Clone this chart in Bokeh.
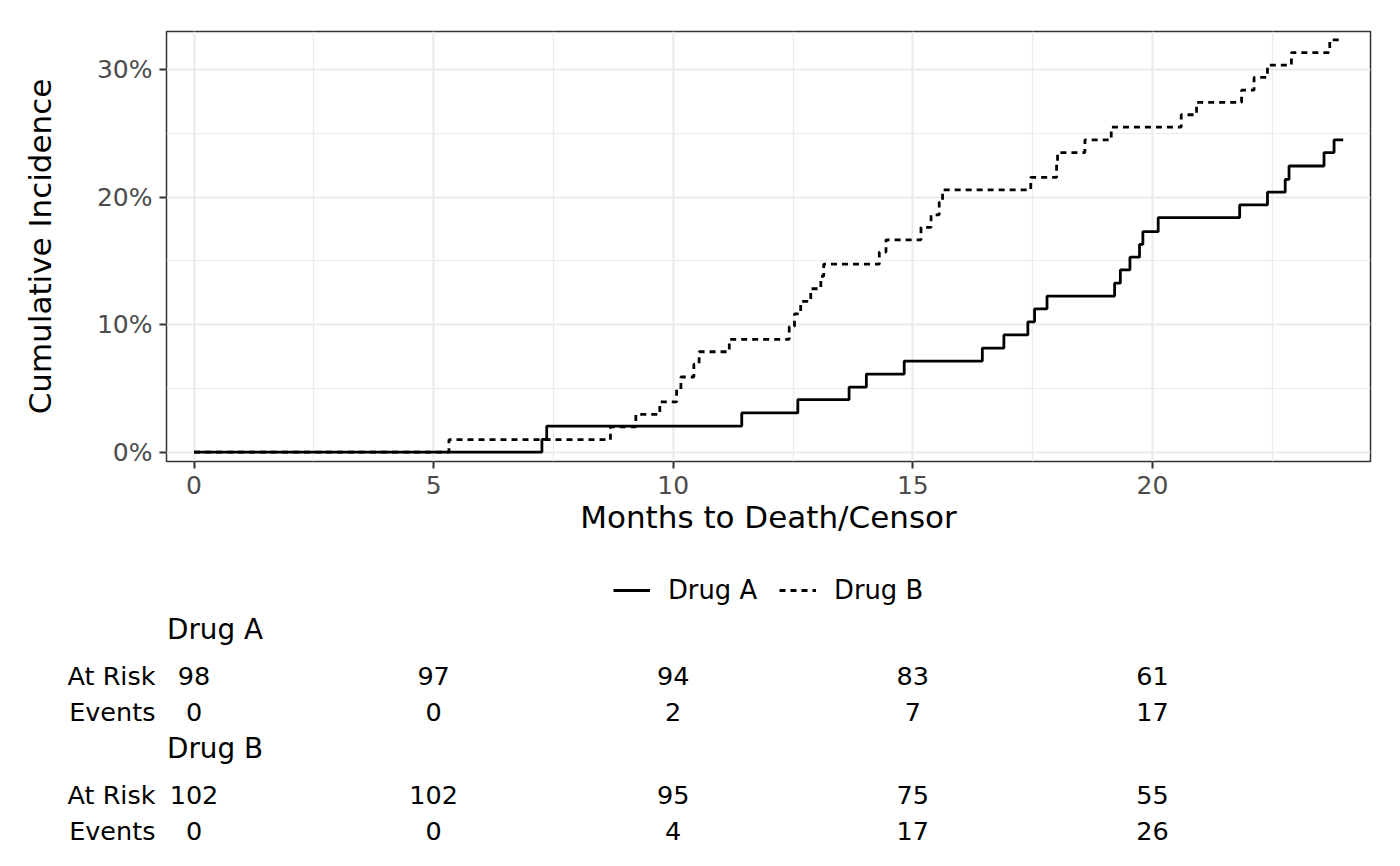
from bokeh.plotting import figure
from bokeh.models import (Range1d, FixedTicker, PrintfTickFormatter, Legend,
                          LegendItem, ColumnDataSource)
from bokeh.layouts import column
from bokeh.embed import file_html
from bokeh.resources import INLINE
from bokeh.core.properties import value

# ---------------- data ----------------
months_a = [0, 7.26, 7.36, 11.43, 12.60, 13.67, 14.03, 14.82, 16.45, 16.90,
            17.40, 17.54, 17.80, 19.21, 19.33, 19.53, 19.73, 19.80, 20.12,
            21.82, 22.40, 22.77, 22.85, 23.58, 23.79, 23.98]
inc_a = [0, 1.0, 2.05, 3.08, 4.13, 5.1, 6.13, 7.15, 8.17, 9.2, 10.23, 11.25,
         12.25, 13.26, 14.3, 15.3, 16.3, 17.3, 18.4, 19.4, 20.4, 21.4, 22.45,
         23.5, 24.5, 24.5]

months_b = [0, 5.32, 8.69, 9.22, 9.72, 10.07, 10.16, 10.43, 10.54, 11.17,
            12.42, 12.53, 12.66, 12.87, 13.08, 13.14, 14.30, 14.44, 15.17,
            15.38, 15.55, 15.62, 17.46, 18.00, 18.02, 18.59, 19.14, 20.60,
            20.92, 21.86, 22.12, 22.40, 22.90, 23.70, 23.98]
inc_b = [0, 0.98, 1.98, 2.96, 3.94, 4.92, 5.9, 6.9, 7.88, 8.85, 9.85, 10.85,
         11.83, 12.82, 13.8, 14.75, 15.7, 16.66, 17.64, 18.62, 19.6, 20.58,
         21.56, 22.55, 23.5, 24.5, 25.5, 26.47, 27.44, 28.4, 29.4, 30.37,
         31.35, 32.34, 32.34]

groups = ["Drug A", "Drug B"]
table_times = [0, 5, 10, 15, 20]
at_risk_a = [98, 97, 94, 83, 61]
events_a = [0, 0, 2, 7, 17]
at_risk_b = [102, 102, 95, 75, 55]
events_b = [0, 0, 4, 17, 26]
row_labels = ["At Risk", "Events", "At Risk", "Events"]

x_major = [0, 5, 10, 15, 20]
x_minor = [2.5, 7.5, 12.5, 17.5, 22.5]
y_major = [0, 10, 20, 30]
y_minor = [5, 15, 25]

FONT = "DejaVu Sans"

# ---------------- layout constants ----------------
W = 1400
BL, BR, BT = 166, 30, 31
FRAME_H = 430
H1 = 550
X0, X1 = -0.574, 24.55
Y0, Y1 = -0.73, 33.0
FRAME_W = W - BL - BR

src_a = ColumnDataSource(dict(x=months_a, y=inc_a))
src_b = ColumnDataSource(dict(x=months_b, y=inc_b))
style_a = dict(line_color="black", line_width=2.8)
style_b = dict(line_color="black", line_width=2.8, line_dash="6 5")

p = figure(frame_width=FRAME_W, frame_height=FRAME_H,
           output_backend="svg", toolbar_location=None,
           x_range=Range1d(X0, X1), y_range=Range1d(Y0, Y1),
           min_border_left=BL, min_border_right=BR, min_border_top=BT,
           min_border_bottom=H1 - BT - FRAME_H)
p.background_fill_color = "white"
p.border_fill_color = "white"
p.outline_line_color = "#333333"
p.outline_line_width = 1.5

p.xaxis.ticker = FixedTicker(ticks=x_major, minor_ticks=x_minor)
p.yaxis.ticker = FixedTicker(ticks=y_major, minor_ticks=y_minor)
p.yaxis.formatter = PrintfTickFormatter(format="%d%%")

for ax in (p.xaxis[0], p.yaxis[0]):
    ax.axis_line_color = None
    ax.major_tick_line_color = "#333333"
    ax.major_tick_line_width = 2
    ax.major_tick_out = 7
    ax.major_tick_in = 0
    ax.minor_tick_line_color = None
    ax.major_label_text_font = FONT
    ax.major_label_text_font_size = "25px"
    ax.major_label_text_color = "#4D4D4D"
    ax.axis_label_text_font = FONT
    ax.axis_label_text_font_size = "31px"
    ax.axis_label_text_font_style = "normal"
    ax.axis_label_text_color = "black"

p.xaxis.axis_label = "Months to Death/Censor"
p.yaxis.axis_label = "Cumulative Incidence"
p.xaxis.major_label_standoff = 7
p.xaxis.axis_label_standoff = 2
p.yaxis.major_label_standoff = 7
p.yaxis.axis_label_standoff = 36

for g in (p.xgrid[0], p.ygrid[0]):
    g.grid_line_color = "#EBEBEB"
    g.grid_line_width = 2.2
    g.minor_grid_line_color = "#EBEBEB"
    g.minor_grid_line_width = 1.2

p.step("x", "y", source=src_a, mode="after", **style_a)
p.step("x", "y", source=src_b, mode="after", **style_b)

# ---------------- legend + risk table ----------------
TOP2 = H1
H2 = 300
row_y = [675 - TOP2, 711 - TOP2, 794 - TOP2, 830 - TOP2]
title_y = [629 - TOP2, 748 - TOP2]

t = figure(width=W, height=H2, output_backend="svg", toolbar_location=None,
           x_range=p.x_range, y_range=Range1d(H2, 0),
           x_axis_location=None,
           min_border_left=BL, min_border_right=BR, min_border_top=0,
           min_border_bottom=0)
t.outline_line_color = None
t.grid.visible = False
t.background_fill_color = "white"
t.border_fill_color = "white"

# legend keys: the same two series (not drawn here, only shown as keys)
k_a = t.step("x", "y", source=src_a, mode="after", visible=False, **style_a)
k_b = t.step("x", "y", source=src_b, mode="after", visible=False, **style_b)
LEG_H = 30
legend = Legend(items=[LegendItem(label=groups[0], renderers=[k_a]),
                       LegendItem(label=groups[1], renderers=[k_b])],
                orientation="horizontal",
                location=(613 - BL, H2 - (605 - TOP2)),
                glyph_width=37, glyph_height=LEG_H, label_height=LEG_H,
                label_standoff=18, spacing=22, padding=0, margin=0,
                border_line_color=None, background_fill_alpha=0,
                label_text_font=FONT, label_text_font_size="25.8px",
                label_text_color="black")
t.add_layout(legend)

ya = t.yaxis[0]
ya.ticker = FixedTicker(ticks=row_y)
ya.major_label_overrides = {y: lab for y, lab in zip(row_y, row_labels)}
ya.axis_line_color = None
ya.major_tick_line_color = None
ya.major_tick_out = 0
ya.minor_tick_line_color = None
ya.major_label_standoff = 11
ya.major_label_text_font = FONT
ya.major_label_text_font_size = "25.5px"
ya.major_label_text_color = "black"

scale = (X1 - X0) / FRAME_W
titles = ColumnDataSource(dict(x=[X0 + 0.5 * scale] * 2, y=title_y,
                               text=groups))
t.text("x", "y", "text", source=titles, text_font=value(FONT),
       text_font_size="27.8px", text_align="left", text_baseline="middle",
       text_color="black")

nx, ny, nt = [], [], []
for ry, vals in zip(row_y, (at_risk_a, events_a, at_risk_b, events_b)):
    for tm, v in zip(table_times, vals):
        nx.append(tm)
        ny.append(ry)
        nt.append(str(v))
nums = ColumnDataSource(dict(x=nx, y=ny, text=nt))
t.text("x", "y", "text", source=nums, text_font=value(FONT),
       text_font_size="25.5px", text_align="center", text_baseline="middle",
       text_color="black")

layout = column(p, t, spacing=0)
open("out.html", "w").write(file_html(layout, INLINE))
